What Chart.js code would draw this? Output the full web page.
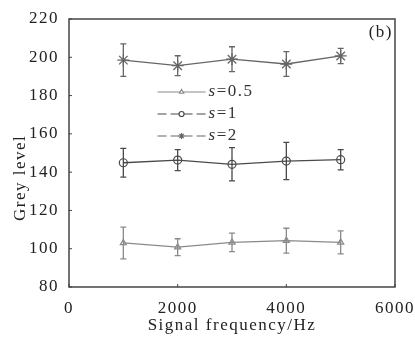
<!DOCTYPE html>
<html>
<head>
<meta charset="utf-8">
<script src="https://cdn.jsdelivr.net/npm/chart.js@4/dist/chart.umd.min.js"></script>
<style>
  html, body { margin: 0; padding: 0; background: #fff; }
  #wrap { width: 415px; height: 340px; }
</style>
</head>
<body>
<div id="wrap"><canvas id="grafico" width="415" height="340"></canvas></div>
<script>
// datos
const frecuencias = [1000, 2000, 3000, 4000, 5000];
const etiquetas = ['s=0.5', 's=1', 's=2'];
const s05 = [103.0, 100.8, 103.3, 104.2, 103.3];
const err05 = [8.3, 4.4, 4.8, 6.5, 6.0];
const s1 = [144.9, 146.3, 144.1, 145.8, 146.5];
const err1 = [7.5, 5.5, 8.7, 9.7, 5.3];
const s2 = [198.5, 195.6, 199.0, 196.5, 200.7];
const err2 = [8.5, 5.2, 6.5, 6.5, 4.0];
const xTicks = [0, 2000, 4000, 6000];
const yTicks = [80, 100, 120, 140, 160, 180, 200, 220];

const fuente = '"Liberation Serif", "DejaVu Serif", serif';

function puntos(ys) {
  return frecuencias.map((x, i) => ({ x: x, y: ys[i] }));
}

// barras de error, dibujadas con las escalas del grafico
const barrasError = {
  id: 'barrasError',
  afterDatasetsDraw(chart) {
    const ctx = chart.ctx;
    const xs = chart.scales.x, ys = chart.scales.y;
    chart.data.datasets.forEach((ds) => {
      ctx.save();
      ctx.strokeStyle = ds.borderColor;
      ctx.lineWidth = 1.3;
      ds.errores.forEach((e, i) => {
        const px = xs.getPixelForValue(ds.data[i].x);
        const top = ys.getPixelForValue(ds.data[i].y + e);
        const bot = ys.getPixelForValue(ds.data[i].y - e);
        ctx.beginPath();
        ctx.moveTo(px, top); ctx.lineTo(px, bot);
        ctx.moveTo(px - 3, top); ctx.lineTo(px + 3, top);
        ctx.moveTo(px - 3, bot); ctx.lineTo(px + 3, bot);
        ctx.stroke();
      });
      ctx.restore();
    });
  }
};

// marco, marcas interiores, leyenda, titulo del eje y y rotulo (b)
const marco = {
  id: 'marco',
  beforeDraw(chart) {
    chart.ctx.letterSpacing = '1.5px';
  },
  afterDraw(chart) {
    const ctx = chart.ctx;
    const a = chart.chartArea;
    const xs = chart.scales.x, ys = chart.scales.y;
    ctx.save();
    ctx.strokeStyle = '#444';
    ctx.lineWidth = 1.5;
    ctx.strokeRect(a.left, a.top, a.right - a.left, a.bottom - a.top);
    ctx.lineWidth = 1;
    yTicks.forEach(v => {
      const py = ys.getPixelForValue(v);
      ctx.beginPath(); ctx.moveTo(a.left, py); ctx.lineTo(a.left + 3, py); ctx.stroke();
    });
    xTicks.forEach(v => {
      const px = xs.getPixelForValue(v);
      ctx.beginPath(); ctx.moveTo(px, a.bottom); ctx.lineTo(px, a.bottom - 3); ctx.stroke();
    });

    // leyenda
    ctx.textBaseline = 'middle';
    ctx.textAlign = 'left';
    const lx = xs.getPixelForValue(1630);
    chart.data.datasets.forEach((ds, k) => {
      const ly = a.top + 73 + k * 22;
      ctx.strokeStyle = ds.borderColor;
      ctx.fillStyle = '#fff';
      ctx.lineWidth = 1.2;
      ctx.setLineDash(k === 0 ? [] : [9, 4]);
      ctx.beginPath(); ctx.moveTo(lx, ly); ctx.lineTo(lx + 48, ly); ctx.stroke();
      ctx.setLineDash([]);
      Chart.helpers.drawPoint(ctx, {
        pointStyle: ds.pointStyle, radius: k === 2 ? 3 : 2.5, borderWidth: 1
      }, lx + 24, ly);
      ctx.fillStyle = '#333';
      ctx.font = 'italic 17px ' + fuente;
      ctx.fillText('s', lx + 51, ly);
      const w = ctx.measureText('s').width;
      ctx.font = '17px ' + fuente;
      ctx.fillText(ds.label.slice(1), lx + 51 + w, ly);
    });

    // titulo del eje y (algo por debajo del centro, como en la figura)
    ctx.fillStyle = '#222';
    ctx.font = '17px ' + fuente;
    ctx.textAlign = 'center';
    ctx.save();
    ctx.translate(21, ys.getPixelForValue(137));
    ctx.rotate(-Math.PI / 2);
    ctx.fillText('Grey level', 0, 0);
    ctx.restore();

    ctx.textAlign = 'right';
    ctx.fillText('(b)', a.right - 2, a.top + 14);
    ctx.restore();
  }
};

const ctx = document.getElementById('grafico').getContext('2d');
new Chart(ctx, {
  type: 'scatter',
  data: {
    datasets: [
      {
        label: etiquetas[0], data: puntos(s05), errores: err05,
        borderColor: '#8a8a8a', backgroundColor: 'rgba(0,0,0,0)',
        pointStyle: 'triangle', pointRadius: 3.5, borderWidth: 1.3, pointBorderWidth: 1.2
      },
      {
        label: etiquetas[1], data: puntos(s1), errores: err1,
        borderColor: '#4a4a4a', backgroundColor: 'rgba(0,0,0,0)',
        pointStyle: 'circle', pointRadius: 4, borderWidth: 1.3, pointBorderWidth: 1.2
      },
      {
        label: etiquetas[2], data: puntos(s2), errores: err2,
        borderColor: '#666666', backgroundColor: 'rgba(0,0,0,0)',
        pointStyle: 'star', pointRadius: 6, borderWidth: 1.3, pointBorderWidth: 1.3
      }
    ].map(d => Object.assign(d, { showLine: true, tension: 0 }))
  },
  options: {
    responsive: false,
    animation: false,
    layout: { padding: { top: 19, right: 19, left: 0, bottom: 0 } },
    plugins: { legend: { display: false }, tooltip: { enabled: false } },
    scales: {
      x: {
        type: 'linear', min: 0, max: 6000,
        afterBuildTicks: s => { s.ticks = xTicks.map(v => ({ value: v })); },
        afterFit: s => { s.height = 53; },
        grid: { display: false },
        border: { display: false },
        ticks: {
          color: '#222', padding: 3,
          font: { family: fuente, size: 17 },
          callback: v => String(v)
        },
        title: {
          display: true, text: 'Signal frequency/Hz', color: '#222',
          font: { family: fuente, size: 17 }, padding: { top: 6 }
        }
      },
      y: {
        min: 80, max: 220,
        afterBuildTicks: s => { s.ticks = yTicks.map(v => ({ value: v })); },
        afterFit: s => { s.width = 69; },
        grid: { display: false },
        border: { display: false },
        ticks: {
          color: '#222', padding: 2,
          font: { family: fuente, size: 17 }
        }
      }
    }
  },
  plugins: [barrasError, marco]
});
</script>
</body>
</html>
